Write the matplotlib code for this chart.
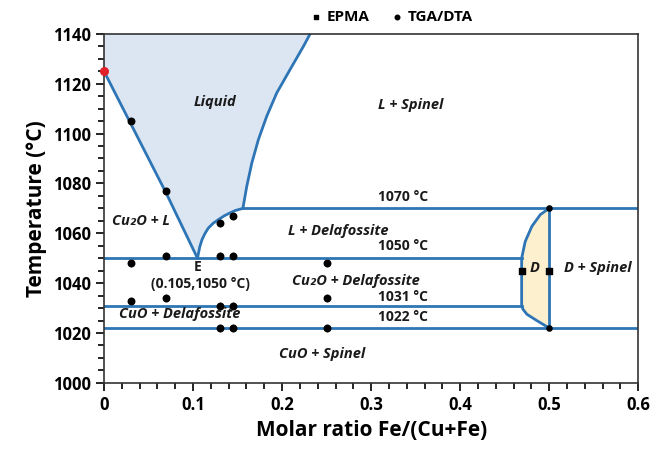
import numpy as np
from matplotlib import pyplot as plt

# phase boundaries (x = Fe/(Cu+Fe), y = temperature in C)
liq_left_x = [0.0, 0.03, 0.07, 0.105]
liq_left_y = [1125, 1104, 1076, 1050]
liq_low_x = [0.105, 0.1075, 0.110, 0.1135, 0.1172, 0.1225, 0.1285, 0.135, 0.1416, 0.148, 0.156]
liq_low_y = [1050, 1054.5, 1057.4, 1060, 1062.1, 1064, 1065.5, 1067, 1068.2, 1069.2, 1070]
liq_up_x = [0.156, 0.1603, 0.166, 0.1734, 0.1828, 0.194, 0.209, 0.224, 0.2315]
liq_up_y = [1070, 1078.8, 1088.2, 1097.6, 1107, 1116.3, 1125.7, 1135, 1140]

d_left_x = [0.5, 0.49, 0.4805, 0.473, 0.4705, 0.469, 0.469, 0.4705, 0.475, 0.486, 0.5]
d_left_y = [1070, 1067.5, 1062.8, 1056.7, 1052.5, 1050, 1031, 1029.5, 1027.5, 1025, 1022]

# isotherms: temperature, x start, x end
iso_t = [1070, 1050, 1031, 1022]
iso_x0 = [0.156, 0.0, 0.0, 0.0]
iso_x1 = [0.6, 0.469, 0.469, 0.6]

# measurements
tga_x = [0.03, 0.07, 0.13, 0.145, 0.07, 0.13, 0.145, 0.03, 0.25,
         0.03, 0.07, 0.25, 0.13, 0.145, 0.13, 0.145, 0.25]
tga_y = [1105, 1077, 1064, 1067, 1051, 1051, 1051, 1048, 1048,
         1033, 1034, 1034, 1031, 1031, 1022, 1022, 1022]
epma_x = [0.469, 0.5]
epma_y = [1045, 1045]
end_x = [0.5, 0.5]
end_y = [1070, 1022]

blue = '#2E75B6'
plt.rcParams['font.family'] = ['Open Sans', 'DejaVu Sans']

fig = plt.figure(figsize=(6.54, 4.51), dpi=100)
ax = fig.add_axes([0.159, 0.151, 0.817, 0.774])

# shaded regions
fx = liq_left_x + liq_low_x[1:] + liq_up_x[1:] + [0.0]
fy = liq_left_y + liq_low_y[1:] + liq_up_y[1:] + [1140]
ax.fill(fx, fy, color='#DCE6F2', zorder=1)
ax.fill(d_left_x, d_left_y, color='#FDF0CF', zorder=1)

# boundaries
for xs, ys in [(liq_left_x, liq_left_y), (liq_low_x, liq_low_y),
               (liq_up_x, liq_up_y), (d_left_x, d_left_y)]:
    ax.plot(xs, ys, color=blue, lw=2, zorder=2, solid_joinstyle='round')
for t, a, b in zip(iso_t, iso_x0, iso_x1):
    ax.plot([a, b], [t, t], color=blue, lw=2, zorder=2)
ax.plot(end_x, end_y, color=blue, lw=2, zorder=2)

# data
ax.errorbar(tga_x, tga_y, yerr=1.5, fmt='none', ecolor='#A0A0A0',
            elinewidth=1, zorder=3)
tga = ax.scatter(tga_x, tga_y, s=22, color='black', zorder=4, label='TGA/DTA')
ax.scatter(end_x, end_y, s=14, color='black', zorder=4)
epma = ax.scatter(epma_x, epma_y, s=18, marker='s', color='black', zorder=4,
                  label='EPMA')
ax.scatter([0], [1125], s=30, color='#E0202A', zorder=5, clip_on=False)

# labels
lab = dict(fontsize=10.5, fontweight='bold', style='italic', color='#1A1A1A',
           ha='center', va='center', zorder=6)
ax.text(0.125, 1112.5, 'Liquid', **lab)
ax.text(0.344, 1111.5, 'L + Spinel', **lab)
ax.text(0.042, 1065, 'Cu₂O + L', **lab)
ax.text(0.263, 1061, 'L + Delafossite', **lab)
ax.text(0.283, 1041, 'Cu₂O + Delafossite', **lab)
ax.text(0.085, 1027.7, 'CuO + Delafossite', **lab)
ax.text(0.245, 1011.6, 'CuO + Spinel', **lab)
ax.text(0.484, 1046, 'D', **lab)
ax.text(0.554, 1046, 'D + Spinel', **lab)

iso = dict(fontsize=10, fontweight='bold', color='#1A1A1A',
           ha='center', va='center', zorder=6)
ax.text(0.336, 1074.7, '1070 °C', **iso)
ax.text(0.336, 1055, '1050 °C', **iso)
ax.text(0.336, 1034.5, '1031 °C', **iso)
ax.text(0.336, 1026.5, '1022 °C', **iso)
ax.text(0.105, 1046.5, 'E', **iso)
ax.text(0.108, 1039.5, '(0.105,1050 °C)', **iso)

ax.set_xlim(0, 0.6)
ax.set_ylim(1000, 1140)
ax.set_xticks(np.arange(0, 0.61, 0.1))
ax.set_xticklabels(['0', '0.1', '0.2', '0.3', '0.4', '0.5', '0.6'])
ax.set_xticks(np.arange(0, 0.61, 0.02), minor=True)
ax.set_yticks(np.arange(1000, 1141, 20))
ax.set_yticks(np.arange(1000, 1141, 5), minor=True)
ax.tick_params(which='both', direction='out', width=1.2, labelsize=12)
ax.tick_params(which='major', length=6)
ax.tick_params(which='minor', length=4)
for lbl in ax.get_xticklabels() + ax.get_yticklabels():
    lbl.set_fontweight('bold')
for s in ax.spines.values():
    s.set_linewidth(1.2)
    s.set_color('#333333')

ax.set_xlabel('Molar ratio Fe/(Cu+Fe)', fontsize=15, fontweight='bold')
ax.set_ylabel('Temperature (°C)', fontsize=15, fontweight='bold')

ax.legend(handles=[epma, tga], loc='lower center', bbox_to_anchor=(0.535, 0.99),
          ncol=2, frameon=False, handletextpad=0.1, handlelength=1.2,
          columnspacing=1.2, markerscale=0.7, prop={'weight': 'bold', 'size': 11})

plt.savefig('out.png', dpi=100)
